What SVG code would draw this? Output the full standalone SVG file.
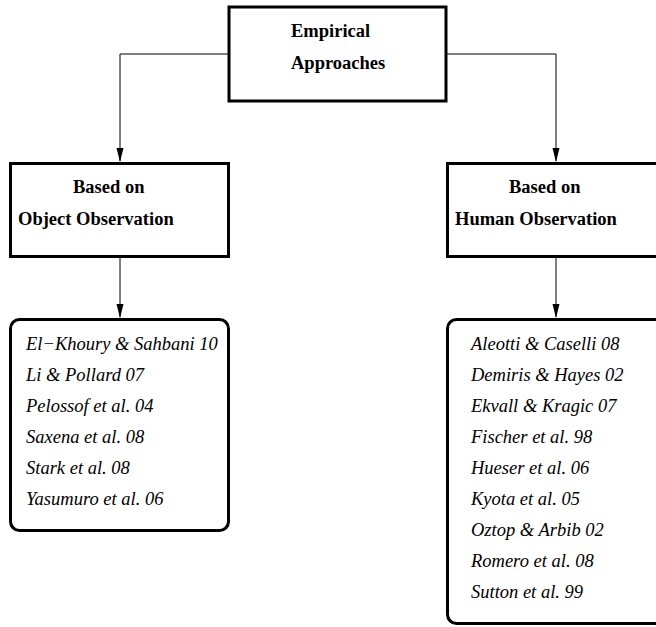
<svg xmlns="http://www.w3.org/2000/svg" width="656" height="627" viewBox="0 0 656 627">
<style>
.box{fill:#fff;stroke:#000;stroke-width:3}
.conn{fill:none;stroke:#000;stroke-width:1}
</style>
<g id="connectors">
<path class="conn" d="M229,54 H120 V161"/>
<polygon points="116.5,148 123.5,148 120,162" fill="#000"/>
<path class="conn" d="M446,54 H556 V161"/>
<polygon points="552.5,148 559.5,148 556,162" fill="#000"/>
<path class="conn" d="M120,257 V317"/>
<polygon points="116.5,304 123.5,304 120,318" fill="#000"/>
<path class="conn" d="M556,257 V317"/>
<polygon points="552.5,304 559.5,304 556,318" fill="#000"/>
</g>
<g font-family="Liberation Serif, Times New Roman, serif" font-weight="bold" font-size="18.5" fill="#000">
<g id="empirical">
<rect class="box" x="229" y="7" width="217" height="94"/>
<text x="291" y="37">Empirical</text>
<text x="291" y="69">Approaches</text>
</g>
<g id="object">
<rect class="box" x="10.5" y="163.5" width="218" height="93"/>
<text x="73" y="193">Based on</text>
<text x="18" y="225">Object Observation</text>
</g>
<g id="human">
<rect class="box" x="447.5" y="163.5" width="220" height="93"/>
<text x="509" y="193">Based on</text>
<text x="455" y="225">Human Observation</text>
</g>
</g>
<g font-family="Liberation Serif, Times New Roman, serif" font-style="italic" font-size="18.5" fill="#000">
<g id="object-list">
<rect class="box" x="10.5" y="319.5" width="218" height="211" rx="9"/>
<text x="26" y="350">El−Khoury &amp; Sahbani 10</text>
<text x="26" y="381">Li &amp; Pollard 07</text>
<text x="26" y="412">Pelossof et al. 04</text>
<text x="26" y="443">Saxena et al. 08</text>
<text x="26" y="474">Stark et al. 08</text>
<text x="26" y="505">Yasumuro et al. 06</text>
</g>
<g id="human-list">
<rect class="box" x="447.5" y="319.5" width="220" height="304" rx="9"/>
<text x="471" y="350">Aleotti &amp; Caselli 08</text>
<text x="471" y="381">Demiris &amp; Hayes 02</text>
<text x="471" y="412">Ekvall &amp; Kragic 07</text>
<text x="471" y="443">Fischer et al. 98</text>
<text x="471" y="474">Hueser et al. 06</text>
<text x="471" y="505">Kyota et al. 05</text>
<text x="471" y="536">Oztop &amp; Arbib 02</text>
<text x="471" y="567">Romero et al. 08</text>
<text x="471" y="598">Sutton et al. 99</text>
</g>
</g>
</svg>
